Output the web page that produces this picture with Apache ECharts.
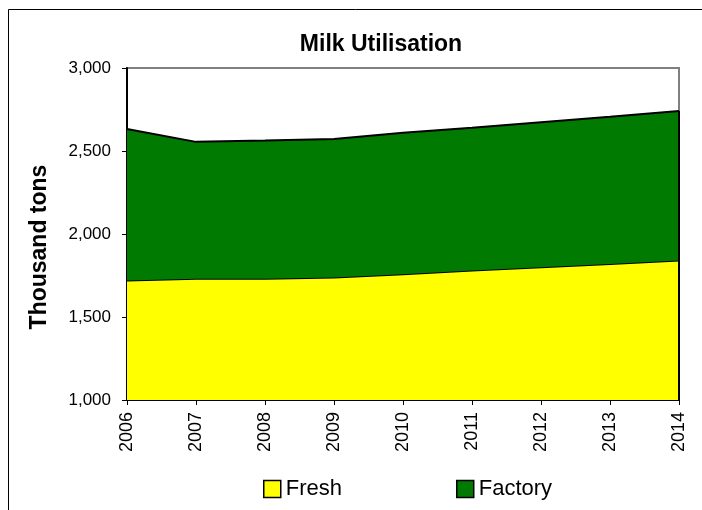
<!DOCTYPE html>
<html>
<head>
<meta charset="utf-8">
<script src="https://cdn.jsdelivr.net/npm/echarts@6/dist/echarts.min.js"></script>
<style>html,body{margin:0;padding:0;background:#fff;}#c{width:702px;height:510px;}</style>
</head>
<body>
<div id="c"></div>
<script>
const years = ['2006','2007','2008','2009','2010','2011','2012','2013','2014'];
const fresh = [1720, 1730, 1730, 1738, 1758, 1780, 1800, 1820, 1840];
const factory = [912, 825, 833, 834, 852, 860, 873, 886, 901];
const yTicks = [1000, 1500, 2000, 2500, 3000];
const titleText = 'Milk Utilisation';
const yName = 'Thousand tons';

const totalLast = fresh[fresh.length - 1] + factory[factory.length - 1];
const FONT = '"Liberation Sans", Arial, sans-serif';
const chart = echarts.init(document.getElementById('c'), null, {renderer: 'canvas'});
chart.setOption({
  animation: false,
  backgroundColor: '#fff',
  title: {
    text: titleText, left: 376, top: 28, textAlign: 'center',
    textStyle: {fontFamily: FONT, fontSize: 23, fontWeight: 'bold', color: '#000'}
  },
  grid: {left: 127, right: 23, top: 68, bottom: 110, show: true, borderColor: '#808080', borderWidth: 2, backgroundColor: 'transparent'},
  legend: {
    data: ['Fresh', 'Factory'], left: 263, top: 478, icon: 'rect', padding: 0,
    itemWidth: 17, itemHeight: 17, itemGap: 114, itemTextGap: 4,
    itemStyle: {borderColor: '#000', borderWidth: 1.5},
    textStyle: {fontFamily: FONT, fontSize: 22, color: '#000'}
  },
  xAxis: {
    type: 'category', data: years, boundaryGap: false,
    axisLine: {lineStyle: {color: '#000', width: 2}},
    axisTick: {show: true, length: 5, lineStyle: {color: '#000', width: 1}},
    axisLabel: {rotate: 90, margin: 12, fontFamily: FONT, fontSize: 18, color: '#000'},
    splitLine: {show: false}
  },
  yAxis: {
    type: 'value', min: yTicks[0], max: yTicks[yTicks.length - 1], interval: yTicks[1] - yTicks[0],
    axisLine: {show: true, lineStyle: {color: '#000', width: 2}},
    axisTick: {show: true, length: 5, lineStyle: {color: '#000', width: 1}},
    axisLabel: {margin: 16, fontFamily: FONT, fontSize: 17, color: '#000', formatter: v => v.toLocaleString('en-US')},
    splitLine: {show: false}
  },
  graphic: [
    {type: 'rect', shape: {x: 8.5, y: 9.5, width: 720, height: 540}, style: {fill: null, stroke: '#000', lineWidth: 1}, silent: true, z: 100},
    {type: 'text', x: 40, y: 247, rotation: Math.PI / 2,
     style: {text: yName, fontFamily: FONT, fontSize: 23, fontWeight: 'bold', fill: '#000', align: 'center', verticalAlign: 'middle'}}
  ],
  series: [
    {
      name: 'Fresh', type: 'line', stack: 'milk', data: fresh, symbol: 'none', z: 2,
      lineStyle: {color: '#000', width: 2},
      itemStyle: {color: '#FFFF00', borderColor: '#000'},
      areaStyle: {color: '#FFFF00', opacity: 1}
    },
    {
      name: 'Factory', type: 'line', stack: 'milk', data: factory, symbol: 'none', z: 3,
      lineStyle: {color: '#000', width: 2},
      itemStyle: {color: '#007A00', borderColor: '#000'},
      areaStyle: {color: '#007A00', opacity: 1},
      markLine: {
        symbol: 'none', silent: true, label: {show: false},
        lineStyle: {color: '#000', width: 2, type: 'solid'},
        data: [[{coord: [years[years.length - 1], yTicks[0]]}, {coord: [years[years.length - 1], totalLast]}]]
      }
    }
  ]
});
</script>
</body>
</html>
